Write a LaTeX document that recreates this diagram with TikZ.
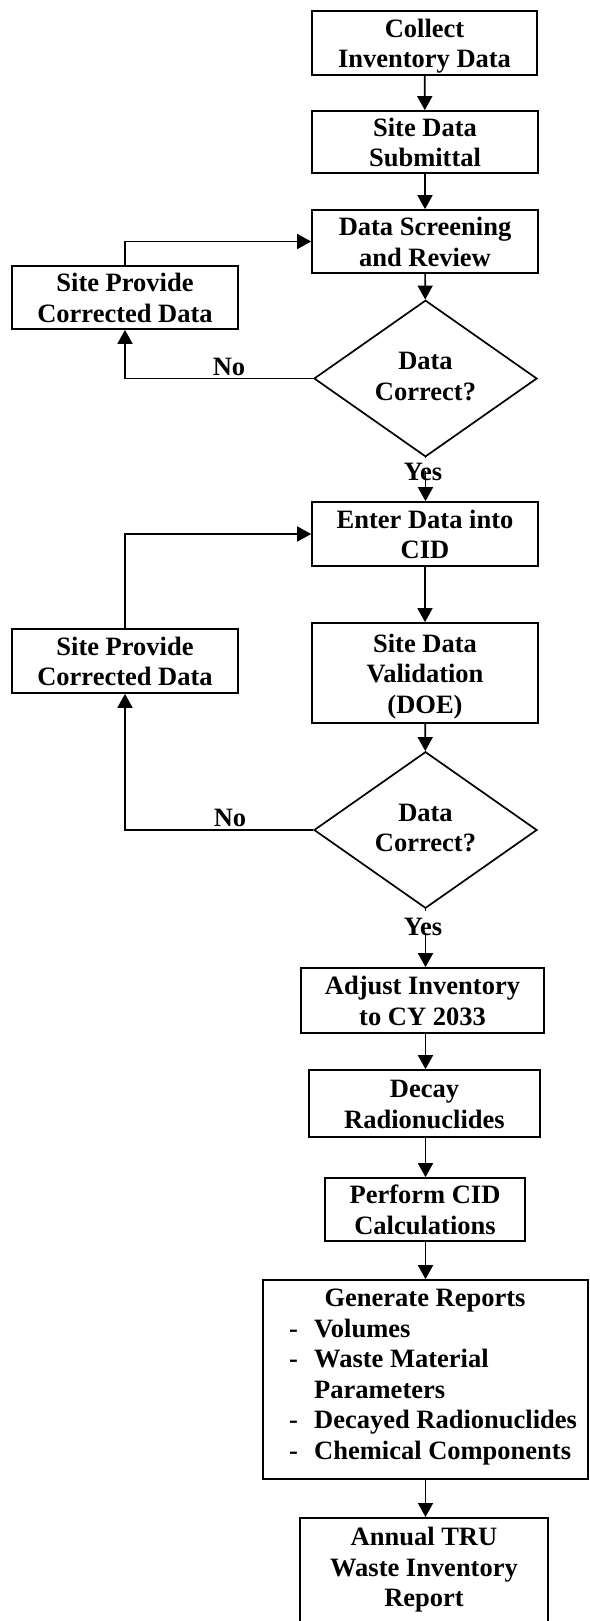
\documentclass[tikz,border=0pt]{standalone}
\usepackage{fontspec}
\setmainfont{Liberation Serif}
\usetikzlibrary{shapes.geometric,arrows.meta}
\newcommand{\boxtop}{\rule{0pt}{25pt}}
\newcommand{\diatop}{\rule{0pt}{19pt}}
\newcommand{\lastbot}{\rule[-6pt]{0pt}{6pt}}
\begin{document}
\begin{tikzpicture}[x=1pt,y=-1pt,
  every node/.style={font=\fontsize{26.5}{30.5}\selectfont\bfseries},
  box/.style={draw, line width=1.7pt, align=center, inner sep=0pt},
  dia/.style={draw, diamond, line width=1.7pt, align=center, inner sep=0pt, minimum width=223pt, minimum height=135pt},
  flow/.style={line width=1.7pt, -{Triangle[width=15pt,length=14pt]}},
  plain/.style={line width=1.7pt},
  lbl/.style={inner xsep=1pt, inner ysep=6pt}]
\useasboundingbox (0,0) rectangle (589,1621);

\node[box, minimum width=225pt, minimum height=64pt] (collect) at (424.5,43) {\boxtop Collect\\Inventory Data\lastbot};
\node[box, minimum width=226pt, minimum height=62pt] (submit) at (425,142) {\boxtop Site Data\\Submittal\lastbot};
\node[box, minimum width=226pt, minimum height=63pt] (screen) at (425,241.5) {\boxtop Data Screening\\and Review\lastbot};
\node[box, minimum width=226pt, minimum height=63pt] (prov1) at (125,297.5) {\boxtop Site Provide\\Corrected Data\lastbot};
\node[dia] (d1) at (425.5,378.5) {\diatop Data\\Correct?\lastbot};
\node[lbl, anchor=base] (yes1) at (423,480) {Yes};
\node[anchor=base] (no1) at (229,375.5) {No};
\node[box, minimum width=226pt, minimum height=64pt] (enter) at (425,534) {\boxtop Enter Data into\\CID\lastbot};
\node[box, minimum width=226pt, minimum height=100pt] (valid) at (425,673) {\boxtop Site Data\\Validation\\(DOE)\lastbot};
\node[box, minimum width=226pt, minimum height=64pt] (prov2) at (125,661) {\boxtop Site Provide\\Corrected Data\lastbot};
\node[dia, minimum height=136pt] (d2) at (425.5,830) {\diatop Data\\Correct?\lastbot};
\node[anchor=base] (no2) at (230,826) {No};
\node[lbl, anchor=base] (yes2) at (423,935) {Yes};
\node[box, minimum width=243pt, minimum height=65pt] (adjust) at (422.5,1000.5) {\boxtop Adjust Inventory\\to CY 2033\lastbot};
\node[box, minimum width=231pt, minimum height=67pt] (decay) at (424.5,1103.5) {\boxtop Decay\\Radionuclides\lastbot};
\node[box, minimum width=200pt, minimum height=63pt] (perform) at (425,1209.5) {\boxtop Perform CID\\Calculations\lastbot};
\node[box, minimum width=325pt, minimum height=199pt] (gen) at (425.5,1379.5) {};
\node[anchor=base, inner sep=0pt] (gentitle) at (425,1306.5) {Generate Reports};
\node[anchor=base west, inner sep=0pt] (g1) at (289,1337) {\makebox[25pt][l]{-}Volumes};
\node[anchor=base west, inner sep=0pt] (g2) at (289,1367.5) {\makebox[25pt][l]{-}Waste Material};
\node[anchor=base west, inner sep=0pt] (g3) at (289,1398) {\makebox[25pt][l]{}Parameters};
\node[anchor=base west, inner sep=0pt] (g4) at (289,1428.5) {\makebox[25pt][l]{-}Decayed Radionuclides};
\node[anchor=base west, inner sep=0pt] (g5) at (289,1459) {\makebox[25pt][l]{-}Chemical Components};
\node[box, minimum width=248pt, inner ysep=3pt, anchor=north] (annual) at (424,1517) {\boxtop Annual TRU\\Waste Inventory\\Report\\\strut};

\draw[flow] (collect) -- (submit);
\draw[flow] (submit) -- (screen);
\draw[flow] (screen) -- (d1);
\draw[plain] (d1.south) -- (d1.south |- yes1.north);
\draw[flow] (d1.south |- yes1.center) -- (d1.south |- enter.north);
\draw[flow] (d1.west) -| (prov1.south);
\draw[flow] (prov1.north) |- (screen.west);
\draw[flow] (enter) -- (valid);
\draw[flow] (valid) -- (d2);
\draw[plain] (d2.south) -- (d2.south |- yes2.north);
\draw[flow] (d2.south |- yes2.base) -- (d2.south |- adjust.north);
\draw[flow] (d2.west) -| (prov2.south);
\draw[flow] (prov2.north) |- (enter.west);
\draw[flow] (d2.south |- adjust.south) -- (d2.south |- decay.north);
\draw[flow] (d2.south |- decay.south) -- (d2.south |- perform.north);
\draw[flow] (d2.south |- perform.south) -- (d2.south |- gen.north);
\draw[flow] (d2.south |- gen.south) -- (d2.south |- annual.north);
\end{tikzpicture}
\end{document}
